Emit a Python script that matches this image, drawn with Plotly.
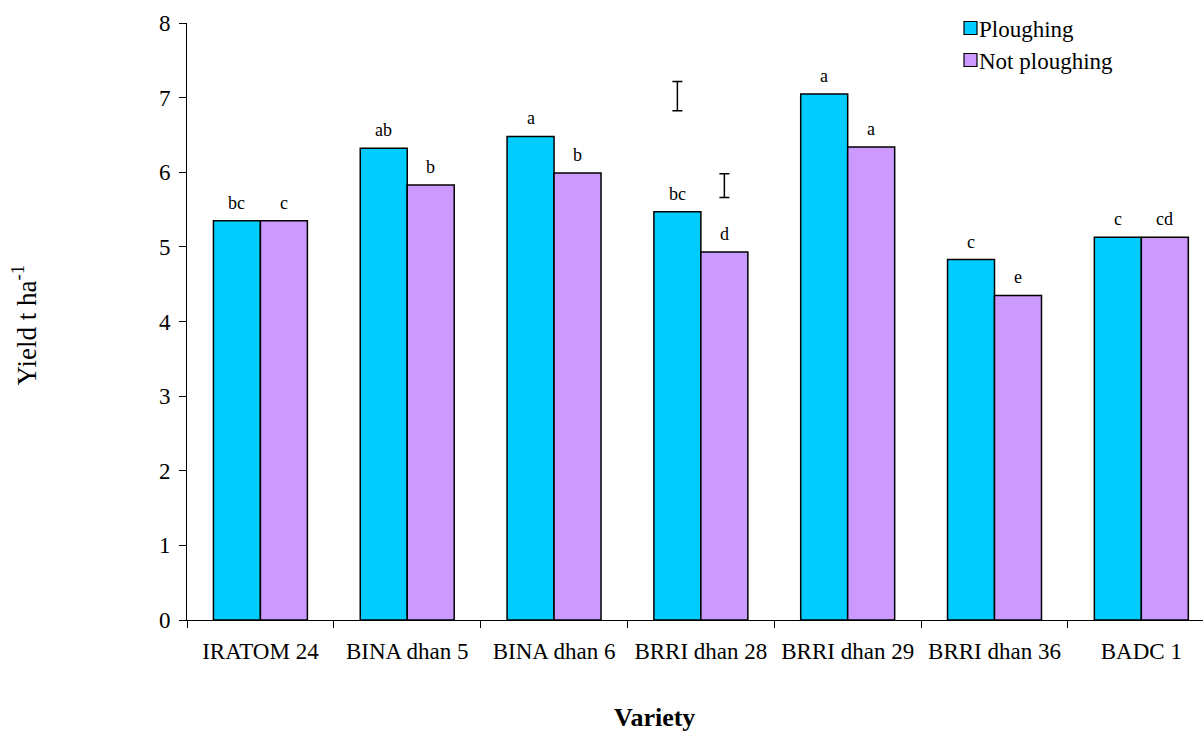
import plotly.graph_objects as go

# Rice varieties and mean grain yield (t/ha) under two tillage treatments
varieties = ["IRATOM 24", "BINA dhan 5", "BINA dhan 6", "BRRI dhan 28",
             "BRRI dhan 29", "BRRI dhan 36", "BADC 1"]
ploughing = [5.35, 6.32, 6.48, 5.47, 7.05, 4.83, 5.13]
not_ploughing = [5.35, 5.83, 5.99, 4.93, 6.34, 4.35, 5.13]

# DMRT letters for each bar
letters_ploughing = ["bc", "ab", "a", "bc", "a", "c", "c"]
letters_not_ploughing = ["c", "b", "b", "d", "a", "e", "cd"]

# LSD bars (centre, half-length) for each treatment
lsd_centre = [7.02, 5.82]
lsd_half = [0.195, 0.16]

series_names = ["Ploughing", "Not ploughing"]

FONT = "Liberation Serif, Times New Roman, serif"
CYAN = "#00CCFF"
LILAC = "#CC99FF"
colors = [CYAN, LILAC]

n = len(varieties)
x_max = 6.42
bar_w = 0.32

# plot-area geometry in pixels, used for the hand-placed legend
L, T, W, H = 187, 23, 1016, 597


def px_to_paper(px, py):
    return (px - L) / W, (T + H - py) / H


fig = go.Figure()
for name, vals, col in zip(series_names, [ploughing, not_ploughing], colors):
    fig.add_trace(go.Bar(
        name=name, x=varieties, y=vals, showlegend=False,
        marker=dict(color=col, line=dict(color="black", width=1.5)),
    ))

# LSD bars, placed over the two bars of the fourth variety
fig.add_trace(go.Scatter(
    x=[3 - bar_w / 2, 3 + bar_w / 2], y=lsd_centre,
    mode="markers", marker=dict(size=0.1, color="rgba(0,0,0,0)"),
    error_y=dict(type="data", array=lsd_half, color="black",
                 thickness=1.5, width=5),
    xaxis="x2", showlegend=False, hoverinfo="skip",
))

annotations = []
for i in range(n):
    for val, lab, off in ((ploughing[i], letters_ploughing[i], -bar_w / 2),
                          (not_ploughing[i], letters_not_ploughing[i], bar_w / 2)):
        annotations.append(dict(
            x=i + off, y=val, xref="x2", yref="y", text=lab,
            showarrow=False, yanchor="bottom", yshift=6,
            font=dict(family=FONT, size=18, color="black"),
        ))

annotations.append(dict(
    x=-0.16, y=0.494, xref="paper", yref="paper",
    text="Yield t ha<sup>-1</sup>", textangle=-90, showarrow=False,
    xanchor="center", yanchor="middle",
    font=dict(family=FONT, size=27, color="black"),
))
vx, vy = px_to_paper(654, 734)
annotations.append(dict(
    x=vx, y=vy, xref="paper", yref="paper",
    text="<b>Variety</b>", showarrow=False,
    xanchor="center", yanchor="bottom",
    font=dict(family=FONT, size=26, color="black"),
))

# legend: outlined swatches with labels, top right
shapes = []
for k, (name, col) in enumerate(zip(series_names, colors)):
    mid = 28 + 32 * k
    x0, y1 = px_to_paper(964, mid - 6.5)
    x1, y0 = px_to_paper(977, mid + 6.5)
    shapes.append(dict(type="rect", xref="paper", yref="paper",
                       x0=x0, x1=x1, y0=y0, y1=y1, fillcolor=col,
                       line=dict(color="black", width=1.2)))
    tx, ty = px_to_paper(977, mid + 1)
    annotations.append(dict(
        x=tx, y=ty, xref="paper", yref="paper", text=name,
        showarrow=False, xanchor="left", yanchor="middle",
        font=dict(family=FONT, size=23, color="black"),
    ))

fig.update_layout(
    width=1203, height=735,
    margin=dict(l=L, r=0, t=T, b=735 - T - H),
    paper_bgcolor="white", plot_bgcolor="white",
    barmode="group", bargap=0.36, bargroupgap=0,
    font=dict(family=FONT, size=18, color="black"),
    xaxis=dict(
        type="category", categoryorder="array", categoryarray=varieties,
        range=[-0.5, x_max], tickson="boundaries",
        ticks="outside", ticklen=7, tickcolor="black", tickwidth=1,
        showline=True, linecolor="black", linewidth=1, showgrid=False,
        tickfont=dict(family=FONT, size=23), zeroline=False,
        ticklabelstandoff=10,
    ),
    xaxis2=dict(
        overlaying="x", range=[-0.5, x_max], visible=False,
        showgrid=False, zeroline=False,
    ),
    yaxis=dict(
        range=[0, 8], dtick=1, ticks="outside", ticklen=7,
        tickcolor="black", tickwidth=1, showline=True, linecolor="black",
        linewidth=1, showgrid=False, zeroline=False,
        tickfont=dict(family=FONT, size=23), ticklabelstandoff=4,
    ),
    showlegend=False,
    shapes=shapes,
    annotations=annotations,
)

fig.write_html("out.html")
